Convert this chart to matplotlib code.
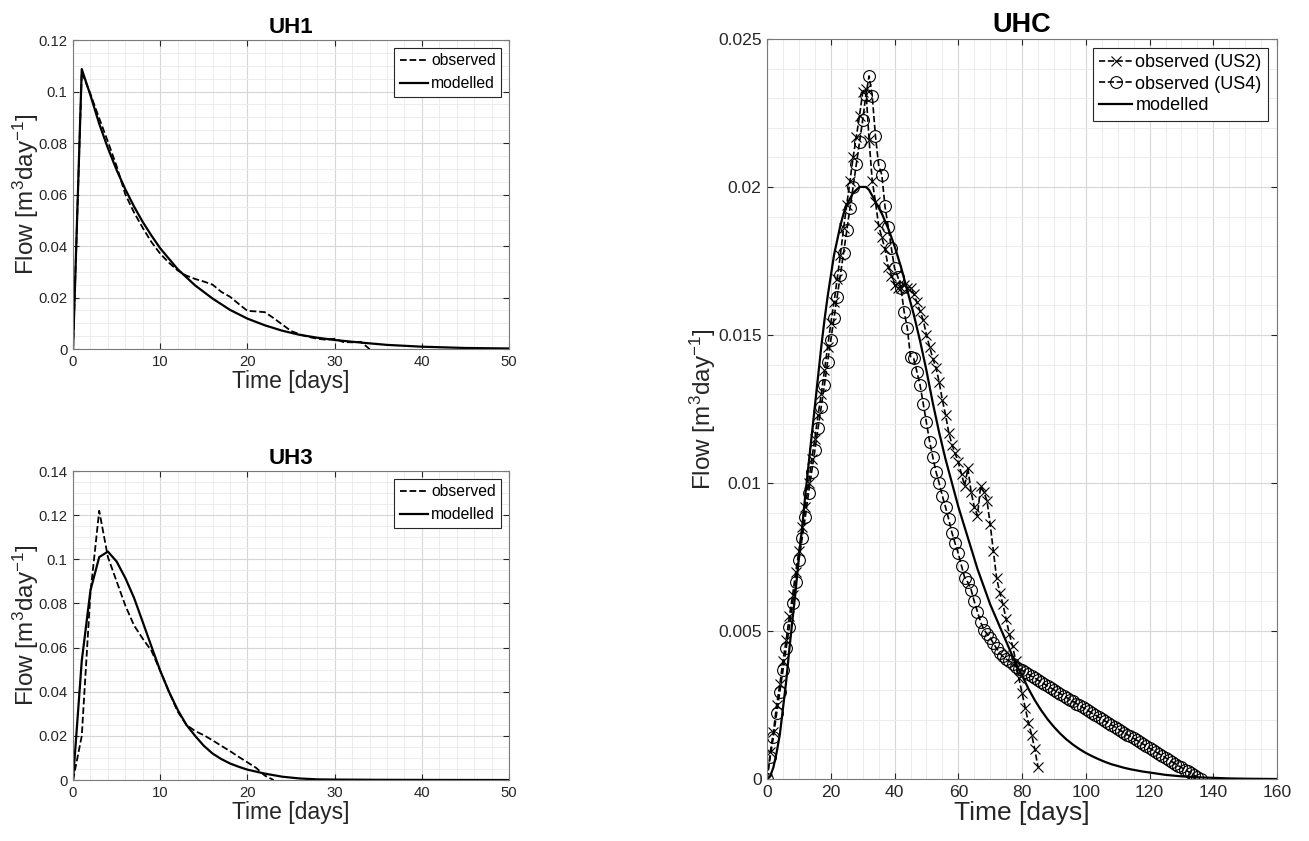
import numpy as np
import matplotlib
matplotlib.use('Agg')
import matplotlib.pyplot as plt
from matplotlib.ticker import AutoMinorLocator, MultipleLocator, FuncFormatter

# UH1 observed / modelled
uh1_obs_t = list(range(0, 35))
uh1_obs = [0.0, 0.1075, 0.0990, 0.0896, 0.0805, 0.0710, 0.0600, 0.0530, 0.0470, 0.0415,
           0.0370, 0.0335, 0.0305, 0.0285, 0.0272, 0.0262, 0.0250, 0.0222, 0.0203, 0.0175,
           0.0148, 0.0146, 0.0143, 0.0120, 0.0095, 0.0070, 0.0057, 0.0047, 0.0040, 0.0036,
           0.0040, 0.0027, 0.0026, 0.0028, 0.0]
uh1_mod_t = [0, 1, 2, 3, 4, 5, 6, 7, 8, 9, 10, 12, 14, 16, 18, 20, 22, 24, 26, 28, 30, 33, 36, 40, 45, 50]
uh1_mod = [0.0, 0.1087, 0.0985, 0.0875, 0.0780, 0.0695, 0.0620, 0.0553, 0.0493, 0.0440,
           0.0391, 0.0310, 0.0247, 0.0196, 0.0152, 0.0118, 0.0092, 0.0071, 0.0055, 0.0044,
           0.0035, 0.0025, 0.0016, 0.0009, 0.0004, 0.0002]

# UH3 observed / modelled
uh3_obs_t = list(range(0, 24))
uh3_obs = [0.0, 0.0200, 0.0850, 0.1220, 0.1010, 0.0900, 0.0790, 0.0700, 0.0640, 0.0585,
           0.0495, 0.0400, 0.0310, 0.0250, 0.0222, 0.0203, 0.0180, 0.0155, 0.0131, 0.0105,
           0.0080, 0.0055, 0.0020, 0.0]
uh3_mod_t = [0, 1, 2, 3, 4, 5, 6, 7, 8, 9, 10, 11, 12, 13, 14, 15, 16, 17, 18, 19, 20,
             22, 24, 26, 28, 30, 35, 40, 50]
uh3_mod = [0.0, 0.054, 0.086, 0.1010, 0.1035, 0.0990, 0.0915, 0.0825, 0.0715, 0.0604,
           0.0495, 0.0400, 0.0318, 0.0250, 0.0200, 0.0155, 0.0120, 0.0095, 0.0075, 0.0060,
           0.0047, 0.0029, 0.0015, 0.0007, 0.0003, 0.0002, 0.0001, 0.00005, 0.0]

# UHC observed at two stations (daily) and modelled
us2_t = list(range(0, 86))
us2 = [0.0, 0.0009, 0.0016, 0.0025, 0.0032, 0.0040, 0.0047, 0.0055, 0.0062, 0.0070,
       0.0077, 0.0085, 0.0092, 0.0100, 0.0108, 0.0115, 0.0123, 0.0130, 0.0138, 0.0146,
       0.0154, 0.0161, 0.0169, 0.0177, 0.0186, 0.0194, 0.0202, 0.0210, 0.0217, 0.0224,
       0.0232, 0.0233, 0.0216, 0.0202, 0.0195, 0.0187, 0.0183, 0.0179, 0.0173, 0.0170,
       0.0167, 0.0166, 0.0166, 0.0167, 0.0166, 0.0166, 0.0164, 0.0161, 0.0158, 0.0155,
       0.0150, 0.0146, 0.0142, 0.0139, 0.0134, 0.0128, 0.0123, 0.0117, 0.0113, 0.0110,
       0.0107, 0.0103, 0.0099, 0.0105, 0.0097, 0.0092, 0.0089, 0.0099, 0.0097, 0.0094,
       0.0086, 0.0077, 0.0068, 0.0063, 0.0059, 0.0054, 0.0049, 0.0045, 0.0040, 0.0034,
       0.0029, 0.0024, 0.0019, 0.0015, 0.0010, 0.0004]
us4_t = list(range(0, 137))
us4 = [0.0, 0.00075, 0.00143, 0.00222, 0.00295, 0.00368, 0.00441, 0.00515, 0.00594, 0.00667,
       0.00740, 0.00813, 0.00886, 0.00965, 0.01038, 0.01111, 0.01185, 0.01258, 0.01331, 0.01410,
       0.01483, 0.01556, 0.01629, 0.01703, 0.01778, 0.01855, 0.01928, 0.02001, 0.02078, 0.02153,
       0.02226, 0.02310, 0.02375, 0.02307, 0.02172, 0.02074, 0.02041, 0.01934, 0.01866, 0.01793,
       0.01725, 0.01697, 0.01658, 0.01579, 0.01523, 0.01427, 0.01421, 0.01376, 0.01331, 0.01267,
       0.01205, 0.01140, 0.01087, 0.01038, 0.00999, 0.00956, 0.00918, 0.00877, 0.00832, 0.00796,
       0.00762, 0.00720, 0.00680, 0.00664, 0.00640, 0.00600, 0.00565, 0.00530, 0.00505, 0.00490,
       0.00478, 0.00458, 0.00441, 0.00425, 0.00414, 0.00405, 0.00398, 0.00390, 0.00380, 0.00373,
       0.00367, 0.00360, 0.00354, 0.00347, 0.00341, 0.00334, 0.00327, 0.00321, 0.00314, 0.00308,
       0.00301, 0.00295, 0.00288, 0.00282, 0.00275, 0.00268, 0.00262, 0.00255, 0.00249, 0.00242,
       0.00236, 0.00229, 0.00222, 0.00216, 0.00209, 0.00203, 0.00196, 0.00190, 0.00183, 0.00177,
       0.00170, 0.00163, 0.00157, 0.00150, 0.00144, 0.00137, 0.00131, 0.00124, 0.00118, 0.00111,
       0.00104, 0.00098, 0.00091, 0.00085, 0.00078, 0.00072, 0.00065, 0.00059, 0.00052, 0.00045,
       0.00039, 0.00032, 0.00026, 0.00019, 0.00013, 0.00006, 0.0]
uhc_mod_t = [0, 1, 2, 3, 4, 5, 6, 7, 8, 9, 10, 11, 12, 13, 14, 15, 16, 17, 18, 19,
             20, 21, 22, 23, 24, 25, 26, 27, 28, 29, 30, 31, 32, 33, 34, 35, 36, 38, 40, 42,
             44, 46, 48, 50, 52, 54, 56, 58, 60, 62, 64, 66, 68, 70, 72, 74, 76, 78, 80, 82,
             84, 86, 88, 90, 92, 94, 96, 98, 100, 102, 104, 106, 108, 110, 112, 114, 116, 118,
             120, 125, 130, 135, 140, 145, 150, 160]
uhc_mod = [0.0, 0.0001, 0.0004, 0.0009, 0.0015, 0.0024, 0.0033, 0.0044, 0.0054, 0.0064,
           0.0075, 0.0085, 0.0096, 0.0106, 0.0116, 0.0126, 0.0136, 0.0146, 0.0155, 0.0163,
           0.0170, 0.0177, 0.0182, 0.0187, 0.0191, 0.0194, 0.0196, 0.0198, 0.0199, 0.0200,
           0.0200, 0.0200, 0.0199, 0.0197, 0.0195, 0.0193, 0.0191, 0.0186, 0.0180, 0.0173,
           0.0165, 0.0157, 0.0148, 0.0138, 0.0127, 0.0117, 0.0108, 0.0100, 0.0092, 0.0085,
           0.0078, 0.0071, 0.0065, 0.0059, 0.0054, 0.0049, 0.0044, 0.0039, 0.0035, 0.00305,
           0.00266, 0.00232, 0.00202, 0.00176, 0.00153, 0.00133, 0.00116, 0.00101, 0.00088,
           0.00077, 0.00067, 0.00058, 0.00050, 0.00044, 0.00038, 0.00033, 0.00029, 0.00025,
           0.00022, 0.00014, 0.00009, 0.00006, 0.00004, 0.00002, 0.00001, 0.0]

# general look (matlab-like)
plt.rcParams['font.family'] = ['Liberation Sans', 'DejaVu Sans']
plt.rcParams['mathtext.fontset'] = 'custom'
plt.rcParams['mathtext.rm'] = 'Liberation Sans'
plt.rcParams['mathtext.it'] = 'Liberation Sans:italic'
plt.rcParams['mathtext.default'] = 'regular'
DARK = '#262626'
YLAB = 'Flow [m$^{3}$day$^{-1}$]'


def style_axes(ax, xmax, ymax, ystep, xminor, yminor, fs, ypad):
    # fs = (ticks, xlabel, ylabel)
    ax.set_xlim(0, xmax)
    ax.set_ylim(0, ymax)
    ax.yaxis.set_major_locator(MultipleLocator(ystep))
    ax.xaxis.set_minor_locator(AutoMinorLocator(xminor))
    ax.yaxis.set_minor_locator(AutoMinorLocator(yminor))
    ax.yaxis.set_major_formatter(FuncFormatter(lambda v, p: '%g' % round(v, 6)))
    ax.grid(which='major', color='#d6d6d6', linewidth=0.8)
    ax.grid(which='minor', color='#ececec', linewidth=0.7)
    ax.set_axisbelow(True)
    ax.tick_params(which='major', direction='in', length=4, width=0.8, top=True, right=True,
                   labelsize=fs[0], colors=DARK, pad=4)
    ax.tick_params(which='minor', length=0, top=True, right=True)
    for s in ax.spines.values():
        s.set_color('#7a7a7a')
        s.set_linewidth(0.8)
    ax.set_xlabel('Time [days]', fontsize=fs[1], color=DARK, labelpad=1)
    ax.set_ylabel(YLAB, fontsize=fs[2], color=DARK, labelpad=ypad)


def add_legend(ax, size, spacing):
    leg = ax.legend(loc='upper right', fontsize=size, frameon=True, fancybox=False,
                    handlelength=1.8, handletextpad=0.2, borderpad=0.35, labelspacing=spacing,
                    borderaxespad=0.5, framealpha=1)
    leg.get_frame().set_edgecolor(DARK)
    leg.get_frame().set_linewidth(0.8)


fig = plt.figure(figsize=(13.09, 8.41), dpi=100)
small_fs = (10.7, 16.5, 17.5)
big_fs = (12.6, 19, 17.5)

# UH1
ax1 = fig.add_axes([0.0558, 0.585, 0.3331, 0.3674])
ax1.plot(uh1_obs_t, uh1_obs, 'k--', linewidth=1.3, label='observed')
ax1.plot(uh1_mod_t, uh1_mod, 'k-', linewidth=1.6, label='modelled')
style_axes(ax1, 50, 0.12, 0.02, 5, 4, small_fs, -2)
ax1.set_title('UH1', fontsize=16, fontweight='bold', pad=5)
add_legend(ax1, 11.3, 0.5)

# UH3
ax3 = fig.add_axes([0.0558, 0.0725, 0.3331, 0.3674])
ax3.plot(uh3_obs_t, uh3_obs, 'k--', linewidth=1.3, label='observed')
ax3.plot(uh3_mod_t, uh3_mod, 'k-', linewidth=1.6, label='modelled')
style_axes(ax3, 50, 0.14, 0.02, 5, 4, small_fs, -2)
ax3.set_title('UH3', fontsize=16, fontweight='bold', pad=5)
add_legend(ax3, 11.3, 0.5)

# UHC
axc = fig.add_axes([0.586, 0.0737, 0.3896, 0.880])
axc.plot(us2_t, us2, 'k--', marker='x', markersize=6.5, markeredgewidth=0.8,
         linewidth=1.2, label='observed (US2)')
axc.plot(us4_t, us4, 'k--', marker='o', markersize=8.5, markeredgewidth=0.8,
         fillstyle='none', linewidth=1.2, label='observed (US4)')
axc.plot(uhc_mod_t, uhc_mod, 'k-', linewidth=1.6, label='modelled')
style_axes(axc, 160, 0.025, 0.005, 4, 5, big_fs, 0)
axc.xaxis.set_major_locator(MultipleLocator(20))
axc.set_title('UHC', fontsize=19.5, fontweight='bold', pad=5)
add_legend(axc, 13.0, 0.25)

plt.savefig('out.png', dpi=100)
